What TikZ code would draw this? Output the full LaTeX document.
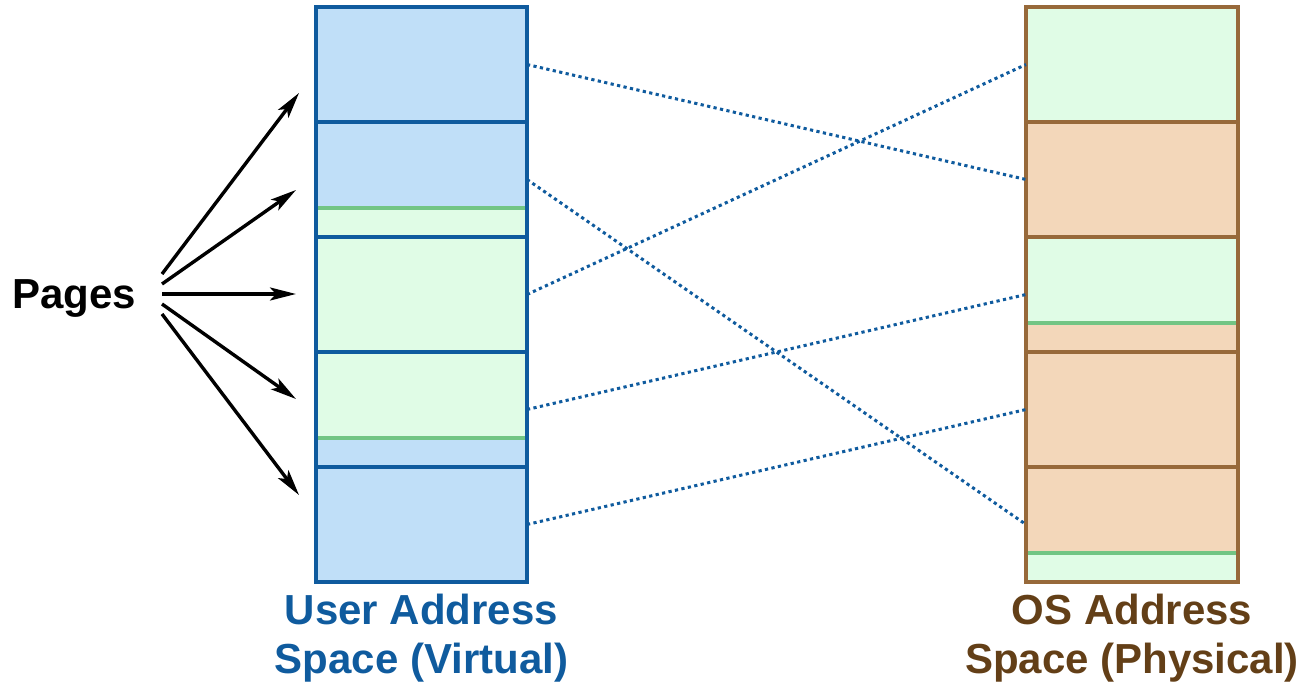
\documentclass[tikz,border=0pt]{standalone}
\usepackage{fontspec}
\setmainfont{Liberation Sans}
\usetikzlibrary{arrows.meta}
\definecolor{vfill}{HTML}{C0DFF8}
\definecolor{vborder}{HTML}{0F5B9E}
\definecolor{gfill}{HTML}{E0FCE6}
\definecolor{gline}{HTML}{72C584}
\definecolor{ofill}{HTML}{F3D7BA}
\definecolor{oborder}{HTML}{97693A}
\definecolor{olabel}{HTML}{633F17}
\tikzset{
  vpage/.style={draw=vborder,line width=2pt,minimum width=105.5pt,minimum height=57.5pt,inner sep=0pt,outer sep=0pt},
  ppage/.style={draw=oborder,line width=2pt,minimum width=106pt,minimum height=57.5pt,inner sep=0pt,outer sep=0pt},
  greenline/.style={draw=gline,line width=2pt},
  dotline/.style={draw=vborder,line width=1.5pt,dash pattern=on 1.6pt off 1.7pt},
  pagearrow/.style={draw=black,line width=1.7pt,-{Stealth[length=13pt,width=6.5pt,inset=3pt]}},
  lbl/.style={font=\bfseries\fontsize{21}{24.5}\selectfont,align=center,inner sep=0pt}
}
\begin{document}
\begin{tikzpicture}[x=0.5pt,y=-0.5pt]
\useasboundingbox (0,0) rectangle (1305,684);
% left column fills
\fill[vfill] (316,7) rectangle (527,208);
\fill[gfill] (316,208) rectangle (527,438);
\fill[vfill] (316,438) rectangle (527,582);
\draw[greenline] (316,208) -- (527,208);
\draw[greenline] (316,438) -- (527,438);
% right column fills
\fill[gfill] (1026,7) rectangle (1238,122);
\fill[ofill] (1026,122) rectangle (1238,237);
\fill[gfill] (1026,237) rectangle (1238,323);
\fill[ofill] (1026,323) rectangle (1238,553);
\fill[gfill] (1026,553) rectangle (1238,582);
\draw[greenline] (1026,323) -- (1238,323);
\draw[greenline] (1026,553) -- (1238,553);
% pages
\node[vpage] (v1) at (421.5,64.5) {};
\node[vpage] (v2) at (421.5,179.5) {};
\node[vpage] (v3) at (421.5,294.5) {};
\node[vpage] (v4) at (421.5,409.5) {};
\node[vpage] (v5) at (421.5,524.5) {};
\node[ppage] (p1) at (1132,64.5) {};
\node[ppage] (p2) at (1132,179.5) {};
\node[ppage] (p3) at (1132,294.5) {};
\node[ppage] (p4) at (1132,409.5) {};
\node[ppage] (p5) at (1132,524.5) {};
% mappings
\draw[dotline] (v1.east) -- (p2.west);
\draw[dotline] (v2.east) -- (p5.west);
\draw[dotline] (v3.east) -- (p1.west);
\draw[dotline] (v4.east) -- (p3.west);
\draw[dotline] (v5.east) -- (p4.west);
% Pages label and arrows
\node[lbl,anchor=base] (pages) at (74,308) {Pages};
\coordinate (s1) at (162,274);
\coordinate (s2) at (162,284);
\coordinate (s3) at (162,294);
\coordinate (s4) at (162,304);
\coordinate (s5) at (162,314);
\coordinate (t1) at (299,93);
\coordinate (t2) at (296,190);
\coordinate (t3) at (296,294);
\coordinate (t4) at (296,399);
\coordinate (t5) at (299,495);
\draw[pagearrow] (s1) -- (t1);
\draw[pagearrow] (s2) -- (t2);
\draw[pagearrow] (s3) -- (t3);
\draw[pagearrow] (s4) -- (t4);
\draw[pagearrow] (s5) -- (t5);
% column labels
\node[lbl,anchor=north,text=vborder] (ulabel) at (421.5,594) {User Address\\Space (Virtual)};
\node[lbl,anchor=north,text=olabel] (olabelnode) at (1132,594) {OS Address\\Space (Physical)};
\end{tikzpicture}
\end{document}
